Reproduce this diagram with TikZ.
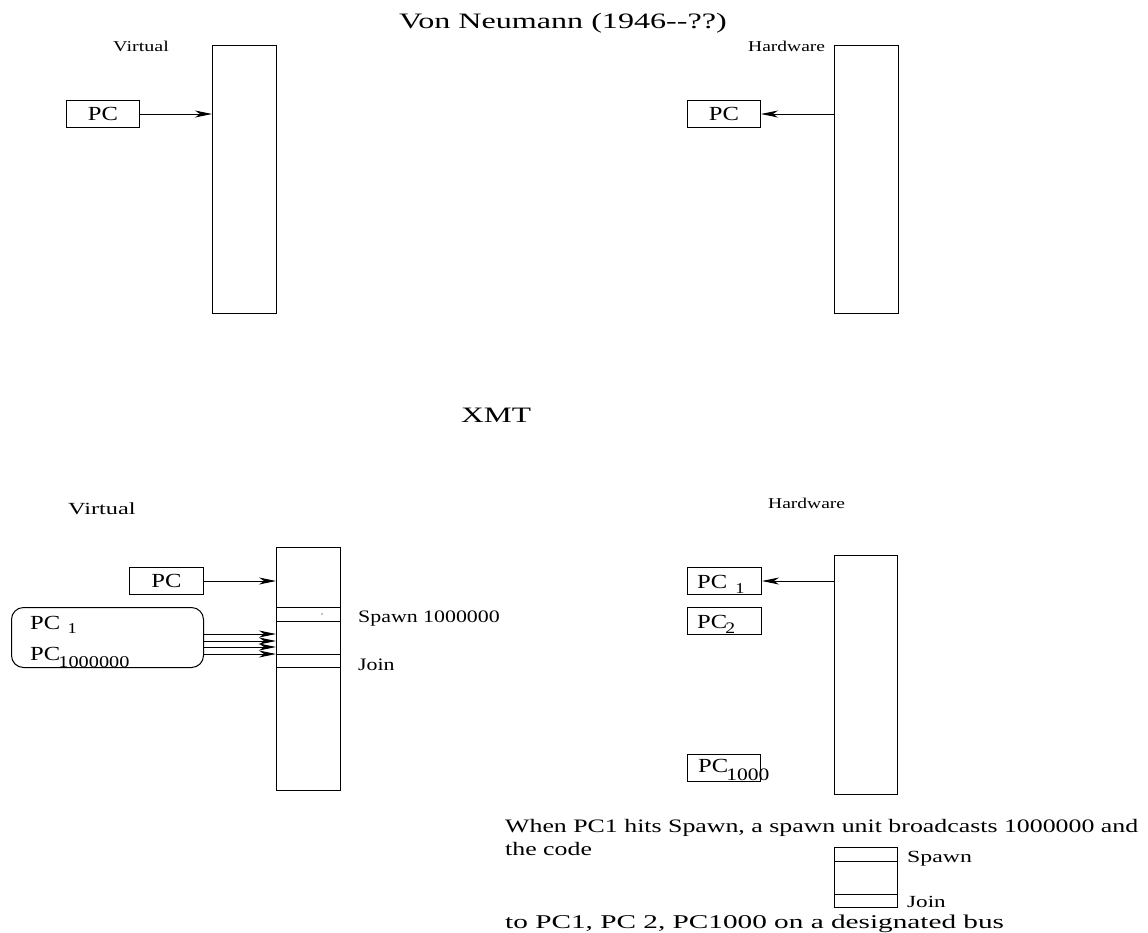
\documentclass[tikz,border=0pt]{standalone}
\usepackage{graphicx}
\usepackage{fontspec}
\setmainfont{Liberation Serif}
\usetikzlibrary{arrows.meta}
\newcommand\fs[1]{\fontsize{#1}{#1}\selectfont}
\newcommand\sx[2]{\scalebox{#1}[1]{#2}}
\tikzset{
  box/.style={draw, line width=1pt, inner sep=0pt, anchor=north west},
  arr/.style={line width=1pt, -{Stealth[length=17pt,width=7pt,inset=5pt]}},
  lbl/.style={inner sep=0pt, anchor=base west},
}
\begin{document}
\begin{tikzpicture}[x=1pt,y=-1pt]
\useasboundingbox (0,0) rectangle (1148,932);
% ---------- Von Neumann ----------
\node[lbl, anchor=base] (title) at (563,28) {\sx{1.46}{\fs{22}Von Neumann (1946\mbox{-}\mbox{-}??)}};
\node[lbl] (virtA) at (113,51) {\sx{1.34}{\fs{15}Virtual}};
\node[lbl] (hardA) at (748,51) {\sx{1.3}{\fs{15}Hardware}};
\node[box, minimum width=64pt, minimum height=268pt] (memTL) at (212,45) {};
\node[box, minimum width=64pt, minimum height=268pt] (memTR) at (834,45) {};
\node[box, minimum width=73pt, minimum height=27pt] (pcTL) at (66,100) {\sx{1.23}{\fs{20}PC}};
\node[box, minimum width=73pt, minimum height=27pt] (pcTR) at (687,100) {\sx{1.23}{\fs{20}PC}};
\draw[arr] (pcTL.east) -- (pcTL.east -| memTL.west);
\draw[arr] (pcTR.east -| memTR.west) -- (pcTR.east);
% ---------- XMT ----------
\node[lbl] (xmt) at (461,422) {\sx{1.43}{\fs{22}XMT}};
\node[lbl] (virtB) at (68,514) {\sx{1.43}{\fs{17}Virtual}};
\node[lbl] (hardB) at (768,508) {\sx{1.3}{\fs{15}Hardware}};
% virtual side
\node[box, minimum width=64pt, minimum height=243pt] (memBL) at (276,547) {};
\node[box, minimum width=64pt, minimum height=14pt] (spawnband) at (276,607) {};
\node[box, minimum width=64pt, minimum height=13pt] (joinband) at (276,654) {};
\fill (322,614) circle (0.6pt);
\node[lbl] (spawnlbl) at (358,622) {\sx{1.25}{\fs{17.5}Spawn 1000000}};
\node[lbl] (joinlbl) at (358,670) {\sx{1.25}{\fs{17.5}Join}};
\node[box, minimum width=74pt, minimum height=27pt] (pcBL) at (129,567) {\sx{1.23}{\fs{20}PC}};
\draw[arr] (pcBL.east) -- (pcBL.east -| memBL.west);
\node[box, rounded corners=12pt, minimum width=192pt, minimum height=60pt] (rbox) at (11,607) {};
\node[lbl] (pcone) at (30,629) {\sx{1.23}{\fs{20}PC\kern6pt\raisebox{-4pt}{\fs{15}1}}};
\node[lbl] (pcmil) at (30,660) {\sx{1.23}{\fs{20}PC\kern-1.5pt\raisebox{-7pt}{\fs{16.5}1000000}}};
\coordinate (a1) at ([yshift=-27pt]rbox.north east);
\coordinate (a2) at ([yshift=-34pt]rbox.north east);
\coordinate (a3) at ([yshift=-40pt]rbox.north east);
\coordinate (a4) at ([yshift=-47pt]rbox.north east);
\draw[arr] (a1) -- (a1 -| memBL.west);
\draw[arr] (a2) -- (a2 -| memBL.west);
\draw[arr] (a3) -- (a3 -| memBL.west);
\draw[arr] (a4) -- (a4 -| memBL.west);
% hardware side
\node[box, minimum width=63pt, minimum height=239pt] (memBR) at (834,555) {};
\node[box, minimum width=74pt, minimum height=27pt] (pcH1) at (687,567) {};
\node[lbl] (pcHone) at (697,588) {\sx{1.23}{\fs{20}PC\kern6.5pt\raisebox{-5pt}{\fs{15}1}}};
\node[box, minimum width=74pt, minimum height=27pt] (pcH2) at (687,607) {};
\node[lbl] (pcHtwo) at (697,628) {\sx{1.23}{\fs{20}PC\kern-1.5pt\raisebox{-5pt}{\fs{16}2}}};
\node[box, minimum width=73pt, minimum height=27pt] (pcH3) at (687,754) {};
\node[lbl] (pcHthree) at (698,772) {\sx{1.23}{\fs{20}PC\kern-1.5pt\raisebox{-8pt}{\fs{17.5}1000}}};
\draw[arr] (pcH1.east -| memBR.west) -- (pcH1.east);
% bottom explanation
\node[lbl] (line1) at (505,832) {\sx{1.36}{\fs{19}When PC1 hits Spawn, a spawn unit broadcasts 1000000 and}};
\node[lbl] (line2) at (505,855) {\sx{1.36}{\fs{19}the code}};
\node[box, minimum width=63pt, minimum height=60pt] (small) at (834,847) {};
\node[box, minimum width=63pt, minimum height=14pt] (smallspawn) at (834,847) {};
\node[box, minimum width=63pt, minimum height=13pt] (smalljoin) at (834,894) {};
\node[lbl] (spawnB) at (907,862) {\sx{1.4}{\fs{17}Spawn}};
\node[lbl] (joinB) at (907,907) {\sx{1.36}{\fs{17}Join}};
\node[lbl] (line3) at (505,928) {\sx{1.5}{\fs{19.5}to PC1, PC 2, PC1000 on a designated bus}};
\end{tikzpicture}
\end{document}
